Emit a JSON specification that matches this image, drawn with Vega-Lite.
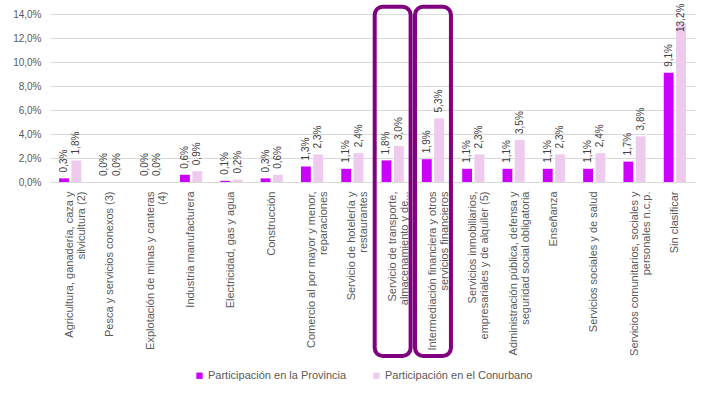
{
  "$schema": "https://vega.github.io/schema/vega-lite/v6.json",
  "width": 645,
  "height": 168,
  "autosize": {"type": "none"},
  "padding": {"left": 50, "top": 14, "right": 15, "bottom": 214},
  "config": {
    "locale": {"number": {"decimal": ",", "thousands": ".", "grouping": [3], "currency": ["$", ""]}},
    "view": {"stroke": null},
    "font": "Liberation Sans"
  },
  "datasets": {
    "main": [
      {"categoria": "Agricultura, ganadería, caza y\nsilvicultura (2)", "serie": "Participación en la Provincia", "valor": 0.003, "resaltado": false},
      {"categoria": "Agricultura, ganadería, caza y\nsilvicultura (2)", "serie": "Participación en el Conurbano", "valor": 0.018, "resaltado": false},
      {"categoria": "Pesca y servicios conexos (3)", "serie": "Participación en la Provincia", "valor": 0.0, "resaltado": false},
      {"categoria": "Pesca y servicios conexos (3)", "serie": "Participación en el Conurbano", "valor": 0.0, "resaltado": false},
      {"categoria": "Explotación de minas y canteras\n(4)", "serie": "Participación en la Provincia", "valor": 0.0, "resaltado": false},
      {"categoria": "Explotación de minas y canteras\n(4)", "serie": "Participación en el Conurbano", "valor": 0.0, "resaltado": false},
      {"categoria": "Industria manufacturera", "serie": "Participación en la Provincia", "valor": 0.006, "resaltado": false},
      {"categoria": "Industria manufacturera", "serie": "Participación en el Conurbano", "valor": 0.009, "resaltado": false},
      {"categoria": "Electricidad, gas y agua", "serie": "Participación en la Provincia", "valor": 0.001, "resaltado": false},
      {"categoria": "Electricidad, gas y agua", "serie": "Participación en el Conurbano", "valor": 0.002, "resaltado": false},
      {"categoria": "Construcción", "serie": "Participación en la Provincia", "valor": 0.003, "resaltado": false},
      {"categoria": "Construcción", "serie": "Participación en el Conurbano", "valor": 0.006, "resaltado": false},
      {"categoria": "Comercio al por mayor y menor,\nreparaciones", "serie": "Participación en la Provincia", "valor": 0.013, "resaltado": false},
      {"categoria": "Comercio al por mayor y menor,\nreparaciones", "serie": "Participación en el Conurbano", "valor": 0.023, "resaltado": false},
      {"categoria": "Servicio de hotelería y\nrestaurantes", "serie": "Participación en la Provincia", "valor": 0.011, "resaltado": false},
      {"categoria": "Servicio de hotelería y\nrestaurantes", "serie": "Participación en el Conurbano", "valor": 0.024, "resaltado": false},
      {"categoria": "Servicio de transporte,\nalmacenamiento y de...", "serie": "Participación en la Provincia", "valor": 0.018, "resaltado": true},
      {"categoria": "Servicio de transporte,\nalmacenamiento y de...", "serie": "Participación en el Conurbano", "valor": 0.030, "resaltado": true},
      {"categoria": "Intermediación financiera y otros\nservicios financieros", "serie": "Participación en la Provincia", "valor": 0.019, "resaltado": true},
      {"categoria": "Intermediación financiera y otros\nservicios financieros", "serie": "Participación en el Conurbano", "valor": 0.053, "resaltado": true},
      {"categoria": "Servicios inmobiliarios,\nempresariales y de alquiler (5)", "serie": "Participación en la Provincia", "valor": 0.011, "resaltado": false},
      {"categoria": "Servicios inmobiliarios,\nempresariales y de alquiler (5)", "serie": "Participación en el Conurbano", "valor": 0.023, "resaltado": false},
      {"categoria": "Administración pública, defensa y\nseguridad social obligatoria", "serie": "Participación en la Provincia", "valor": 0.011, "resaltado": false},
      {"categoria": "Administración pública, defensa y\nseguridad social obligatoria", "serie": "Participación en el Conurbano", "valor": 0.035, "resaltado": false},
      {"categoria": "Enseñanza", "serie": "Participación en la Provincia", "valor": 0.011, "resaltado": false},
      {"categoria": "Enseñanza", "serie": "Participación en el Conurbano", "valor": 0.023, "resaltado": false},
      {"categoria": "Servicios sociales y de salud", "serie": "Participación en la Provincia", "valor": 0.011, "resaltado": false},
      {"categoria": "Servicios sociales y de salud", "serie": "Participación en el Conurbano", "valor": 0.024, "resaltado": false},
      {"categoria": "Servicios comunitarios, sociales y\npersonales n.c.p.", "serie": "Participación en la Provincia", "valor": 0.017, "resaltado": false},
      {"categoria": "Servicios comunitarios, sociales y\npersonales n.c.p.", "serie": "Participación en el Conurbano", "valor": 0.038, "resaltado": false},
      {"categoria": "Sin clasificar", "serie": "Participación en la Provincia", "valor": 0.091, "resaltado": false},
      {"categoria": "Sin clasificar", "serie": "Participación en el Conurbano", "valor": 0.132, "resaltado": false}
    ]
  },
  "data": {"name": "main"},
  "encoding": {
    "x": {
      "field": "categoria",
      "type": "nominal",
      "sort": null,
      "scale": {"paddingInner": 0.45, "paddingOuter": 0.225},
      "axis": {
        "title": null,
        "labelAngle": -90,
        "ticks": false,
        "domain": false,
        "labelPadding": 9,
        "labelFontSize": 11,
        "labelColor": "#595959",
        "labelLimit": 300,
        "labelLineHeight": 12,
        "labelExpr": "split(datum.label, '\\n')"
      }
    }
  },
  "resolve": {"scale": {"y": "independent"}},
  "layer": [
    {
      "mark": {"type": "bar"},
      "encoding": {
        "xOffset": {"field": "serie", "type": "nominal", "sort": null, "scale": {"paddingInner": 0.2}},
        "y": {
          "field": "valor",
          "type": "quantitative",
          "scale": {"domain": [0, 0.14], "nice": false},
          "axis": {
            "title": null,
            "format": ".1%",
            "values": [0, 0.02, 0.04, 0.06, 0.08, 0.10, 0.12, 0.14],
            "domain": false,
            "ticks": false,
            "gridColor": "#D9D9D9",
            "labelColor": "#595959",
            "labelFontSize": 10,
            "labelPadding": 9
          }
        },
        "color": {
          "field": "serie",
          "type": "nominal",
          "scale": {"domain": ["Participación en la Provincia", "Participación en el Conurbano"], "range": ["#CC00FF", "#EECAEE"]},
          "legend": {
            "orient": "none",
            "legendX": 144,
            "legendY": 356,
            "direction": "horizontal",
            "title": null,
            "symbolType": "square",
            "symbolSize": 40,
            "symbolStrokeWidth": 0,
            "labelFontSize": 11,
            "labelColor": "#595959",
            "columnPadding": 24,
            "labelOffset": 3
          }
        }
      }
    },
    {
      "mark": {"type": "text", "angle": 270, "align": "left", "baseline": "middle", "dx": 6, "fontSize": 10, "color": "#404040"},
      "encoding": {
        "xOffset": {"field": "serie", "type": "nominal", "sort": null, "scale": {"paddingInner": 0.2}},
        "y": {
          "field": "valor",
          "type": "quantitative",
          "scale": {"domain": [0, 0.12], "range": [168, 24], "clamp": true, "nice": false, "zero": true},
          "axis": null
        },
        "text": {"field": "valor", "type": "quantitative", "format": ".1%"}
      }
    },
    {
      "transform": [
        {"filter": "datum.resaltado"},
        {"filter": "datum.serie == 'Participación en la Provincia'"}
      ],
      "mark": {"type": "rect", "filled": false, "stroke": "#800080", "strokeWidth": 4, "cornerRadius": 8, "width": {"band": 1.62}},
      "encoding": {
        "y": {"datum": 0.146, "type": "quantitative", "scale": {"domain": [0, 0.14], "nice": false}, "axis": null},
        "y2": {"datum": -0.145}
      }
    }
  ]
}
